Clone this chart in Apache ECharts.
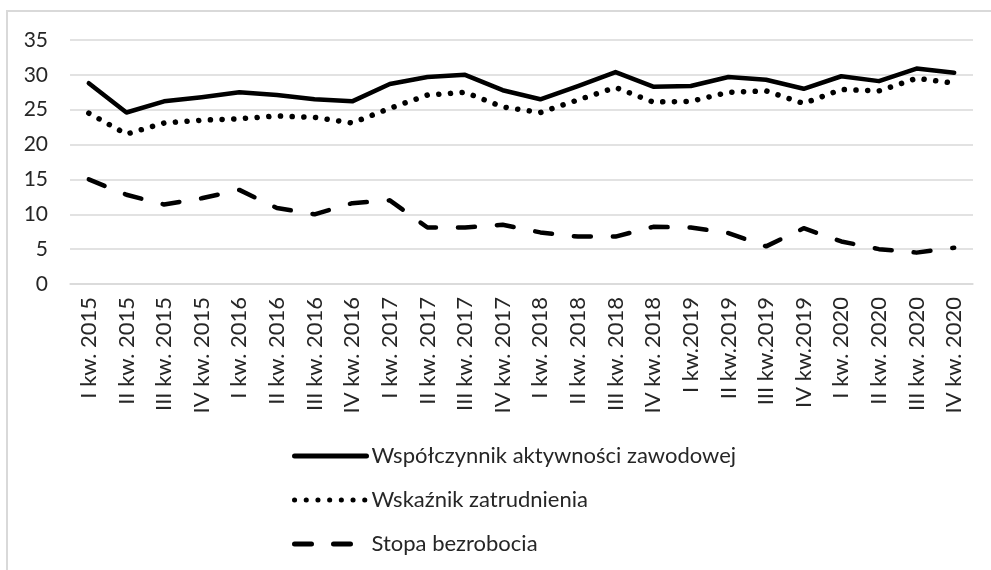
<!DOCTYPE html>
<html lang="pl">
<head>
	<meta charset="UTF-8">
	<title>Wskaźniki rynku pracy</title>
	<script src="https://cdn.jsdelivr.net/npm/echarts@6/dist/echarts.min.js"></script>
	<style>
		html, body { margin: 0; padding: 0; background: #fff; }
		#ramka {
			position: absolute; left: 6px; top: 10px; width: 1000px; height: 600px;
			border-top: 2px solid #d9d9d9; border-left: 2px solid #d9d9d9;
		}
		#wykres { position: absolute; left: 0; top: 0; width: 991px; height: 570px; }
	</style>
</head>
<body>
	<div id="ramka"></div>
	<div id="wykres"></div>
	<script>
		// kwartały
		var kwartaly = [
			'I kw. 2015', 'II kw. 2015', 'III kw. 2015', 'IV kw. 2015',
			'I kw. 2016', 'II kw. 2016', 'III kw. 2016', 'IV kw. 2016',
			'I kw. 2017', 'II kw. 2017', 'III kw. 2017', 'IV kw. 2017',
			'I kw. 2018', 'II kw. 2018', 'III kw. 2018', 'IV kw. 2018',
			'I kw.2019', 'II kw.2019', 'III kw.2019', 'IV kw.2019',
			'I kw. 2020', 'II kw. 2020', 'III kw. 2020', 'IV kw. 2020'
		];
		var aktywnosc = [28.8, 24.6, 26.2, 26.8, 27.5, 27.1, 26.5, 26.2, 28.7, 29.7, 30.0, 27.8,
			26.5, 28.4, 30.4, 28.3, 28.4, 29.7, 29.3, 28.0, 29.8, 29.1, 30.9, 30.3];
		var zatrudnienie = [24.5, 21.5, 23.1, 23.5, 23.7, 24.1, 23.9, 23.1, 25.2, 27.1, 27.5, 25.4,
			24.6, 26.4, 28.2, 26.1, 26.2, 27.5, 27.7, 25.9, 27.9, 27.7, 29.5, 28.8];
		var bezrobocie = [15.0, 12.8, 11.4, 12.3, 13.5, 10.9, 10.0, 11.6, 12.0, 8.1, 8.1, 8.5,
			7.4, 6.8, 6.8, 8.2, 8.1, 7.3, 5.4, 8.0, 6.1, 5.0, 4.5, 5.2];
		var nazwy = ['Współczynnik aktywności zawodowej', 'Wskaźnik zatrudnienia', 'Stopa bezrobocia'];

		var czcionka = 'Lato';
		var kolorTekstu = '#262626';

		var myChart = echarts.init(document.getElementById('wykres'));
		myChart.setOption({
			animation: false,
			textStyle: { fontFamily: czcionka },
			grid: { left: 70, right: 18, top: 40, bottom: 286 },
			legend: {
				orient: 'vertical',
				left: 287,
				top: 440,
				height: 200,
				itemWidth: 72,
				itemHeight: 14,
				itemGap: 22,
				itemStyle: { opacity: 0 },
				lineStyle: { width: 5 },
				textStyle: { fontFamily: czcionka, fontSize: 22, color: kolorTekstu },
				data: nazwy
			},
			xAxis: {
				type: 'category',
				data: kwartaly,
				boundaryGap: true,
				axisLine: { lineStyle: { color: '#d9d9d9', width: 1.5 } },
				axisTick: { show: false },
				axisLabel: {
					rotate: 90,
					interval: 0,
					margin: 13,
					fontFamily: czcionka,
					fontSize: 22,
					color: kolorTekstu
				}
			},
			yAxis: {
				type: 'value',
				min: 0,
				max: 35,
				interval: 5,
				axisLine: { show: false },
				axisTick: { show: false },
				axisLabel: { margin: 22, fontFamily: czcionka, fontSize: 21, color: kolorTekstu },
				splitLine: { lineStyle: { color: '#d9d9d9', width: 1.5 } }
			},
			series: [{
				name: nazwy[0],
				type: 'line',
				data: aktywnosc,
				symbol: 'none',
				lineStyle: { color: '#000', width: 4.5, cap: 'round', join: 'round' },
				itemStyle: { color: '#000' }
			}, {
				name: nazwy[1],
				type: 'line',
				data: zatrudnienie,
				symbol: 'none',
				lineStyle: { color: '#000', width: 5.5, type: [0.1, 11.6], cap: 'round', join: 'round' },
				itemStyle: { color: '#000' }
			}, {
				name: nazwy[2],
				type: 'line',
				data: bezrobocie,
				symbol: 'none',
				lineStyle: { color: '#000', width: 4.5, type: [17, 22], cap: 'round', join: 'round' },
				itemStyle: { color: '#000' }
			}]
		});
	</script>
</body>
</html>
